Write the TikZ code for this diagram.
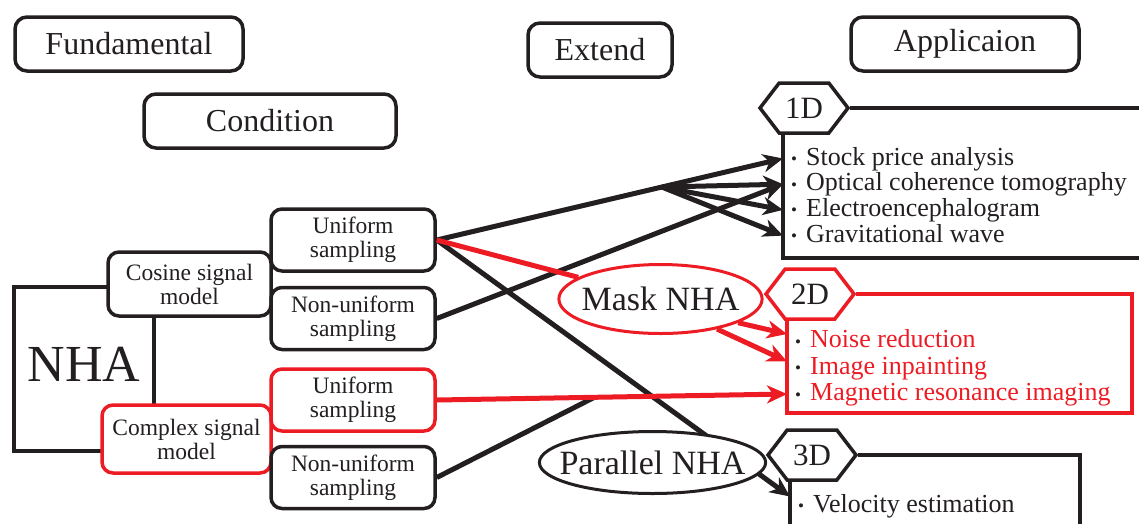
\documentclass[tikz,border=0pt]{standalone}
\usepackage{fontspec}
\setmainfont{Liberation Serif}
\usetikzlibrary{arrows.meta,shapes.geometric,shapes.symbols,calc}
\definecolor{myblack}{RGB}{35,31,32}
\definecolor{myred}{RGB}{237,28,36}
\newcommand{\itemdot}{\makebox[15pt][l]{\raisebox{0.5pt}{\fontsize{17}{17}\selectfont •}}}

\begin{document}
\begin{tikzpicture}[x=1pt,y=-1pt,color=myblack]
	\tikzstyle{title}=[draw,line width=3.5pt,rounded corners=12pt,minimum height=54pt,font=\fontsize{32}{34}\selectfont]
	\tikzstyle{model}=[draw,fill=white,line width=3.5pt,rounded corners=11pt,align=center,inner sep=0pt,font=\fontsize{23.5}{24}\selectfont]
	\tikzstyle{sampling}=[model,minimum width=164pt,minimum height=62pt]
	\tikzstyle{extension}=[draw,fill=white,ellipse,line width=3pt,inner ysep=0pt,font=\fontsize{34}{36}\selectfont]
	\tikzstyle{dim}=[draw,fill=white,signal,signal from=nowhere,signal to=east and west,signal pointer angle=105,line width=3.5pt,minimum width=88pt,minimum height=50pt,inner sep=0pt,font=\fontsize{31}{33}\selectfont]
	\tikzstyle{appbox}=[line width=3.5pt]
	\tikzstyle{item}=[anchor=base west,inner xsep=8pt,inner ysep=0pt,text height=18pt,text depth=5pt,font=\fontsize{26}{26}\selectfont]
	\tikzstyle{myarrow}=[line width=5pt,-{Stealth[length=20pt,width=18pt,inset=6pt]}]

	\useasboundingbox (0,0) rectangle (1139,523);
	\clip (0,0) rectangle (1139,523);

	\node[title,minimum width=228pt] (fund) at (129,44) {Fundamental};
	\node[title,minimum width=252pt] (cond) at (270,121) {Condition};
	\node[title,minimum width=144pt] (ext) at (600,50) {Extend};
	\node[title,minimum width=228pt] (app) at (965,44) {Applicaion};

	\node[draw,line width=3.5pt,minimum width=140pt,minimum height=164pt,text depth=9pt,font=\fontsize{52}{52}\selectfont] (nha) at (84,369) {NHA};
	\node[model,minimum width=163pt,minimum height=64pt] (cos) at (189.5,284) {Cosine signal\\model};
	\node[model,draw=myred,minimum width=169pt,minimum height=68pt] (cplx) at (186.5,439) {Complex signal\\model};
	\foreach \n/\y/\t/\c in {us1/240/Uniform/myblack,nus1/318.5/Non-uniform/myblack,us2/400/Uniform/myred,nus2/477.5/Non-uniform/myblack}
		{ \node[sampling,draw=\c] (\n) at (353,\y) {\t\\sampling}; }

	\foreach \t [count=\i] in {Stock price analysis,Optical coherence tomography,Electroencephalogram,Gravitational wave}
		{ \node[item] (one\i) at (783,{139.3+25.7*\i}) {\itemdot\t}; }
	\foreach \t [count=\i] in {Noise reduction,Image inpainting,Magnetic resonance imaging}
		{ \node[item] (two\i) at (787,{321+26.5*\i}) {\itemdot\textcolor{myred}{\t}}; }
	\node[item] (three1) at (790,512) {\itemdot Velocity estimation};

	\node[dim] (hex1) at (804,108) {1D};
	\node[dim,draw=myred] (hex2) at (810,294) {2D};
	\node[dim] (hex3) at (812,455) {3D};
	\draw[appbox] (hex1.east) -- (1150,108) (hex1.south -| one1.west) |- (1150,258);
	\draw[appbox,myred] (hex2.east) -| (1132,413) -| (hex2.south -| two1.west);
	\draw[appbox] (hex3.east) -| (1080,540) (hex3.south -| three1.west) -- (790,540);

	\node[extension,draw=myred,inner xsep=-7pt,minimum width=202pt,minimum height=69pt] (mask) at (660.5,299) {Mask NHA};

	\coordinate (fork) at ($(us1.east)!0.65!(one1.west)$);
	\coordinate (join) at ($(us2.east)!0.45!(two3.west)$);
	\draw[myarrow] (us1.east) -- (one1.west);
	\foreach \i in {2,3,4} { \draw[myarrow] (fork) -- (one\i.west); }
	\draw[myarrow] (nus1.east) -- (one2.west);
	\draw[myarrow] (us1.east) -- ([yshift=9pt]three1.west);
	\draw[line width=5pt] (nus2.east) -- (join);

	\draw[line width=5pt,myred] (us1.east) -- (mask);
	\draw[myarrow,myred] (mask.-17) -- ([yshift=7pt]two1.west);
	\draw[myarrow,myred] (mask.-28) -- ([yshift=6pt]two2.west);
	\draw[myarrow,myred] (us2.east) -- (two3.west);

	\node[extension,inner xsep=-13pt,minimum width=222pt,minimum height=62pt] (par) at (652.5,462.5) {Parallel NHA};
\end{tikzpicture}
\end{document}
